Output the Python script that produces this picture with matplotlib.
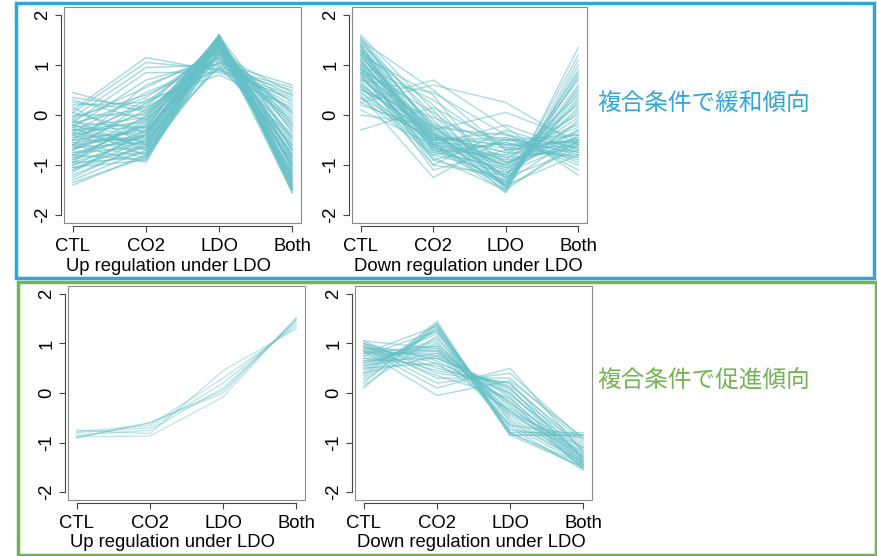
import matplotlib
matplotlib.use('Agg')
import matplotlib.pyplot as plt
from matplotlib.patches import Rectangle

# conditions on the x axis
conditions = ['CTL', 'CO2', 'LDO', 'Both']
x_pos = [1, 2, 3, 4]
y_ticks = [-2, -1, 0, 1, 2]
y_tick_labels = ['-2', '-1', '0', '1', '2']

# each row: CTL, CO2, LDO, Both (scaled expression)
up_relieved = [
    [0.45, 0.05, 1.05, 0.60], [0.35, 0.15, 0.95, 0.55], [0.30, -0.10, 1.20, 0.45],
    [0.20, 0.25, 0.90, 0.50], [0.10, 1.15, 0.88, 0.40], [0.05, 1.05, 0.92, 0.30],
    [-0.05, 0.95, 1.00, 0.20], [-0.15, 0.85, 0.85, 0.35], [-0.25, 0.70, 1.10, 0.10],
    [-0.10, 0.55, 1.25, 0.00], [-0.35, 0.45, 1.05, -0.10], [-0.20, 0.35, 1.30, -0.20],
    [-0.50, 0.30, 0.80, 0.15], [-0.40, 0.20, 1.40, -0.30], [-0.60, 0.10, 1.15, -0.40],
    [0.00, 0.00, 1.50, -0.50], [-0.70, -0.05, 1.35, -0.60], [-0.30, -0.15, 1.55, -0.70],
    [-0.80, -0.20, 1.45, -0.80], [-0.15, -0.25, 1.60, -0.90], [-0.90, -0.30, 1.25, -1.00],
    [-0.45, -0.35, 1.58, -1.10], [-1.00, -0.40, 1.50, -1.20], [-0.55, -0.45, 1.42, -1.30],
    [-1.10, -0.50, 1.60, -1.40], [-0.65, -0.55, 1.55, -1.50], [-1.20, -0.60, 1.38, -1.55],
    [-0.75, -0.65, 1.48, -1.35], [-1.30, -0.70, 1.30, -1.25], [-0.85, -0.75, 1.20, -1.15],
    [-1.40, -0.80, 1.52, -1.05], [-0.95, -0.85, 1.45, -0.95], [-1.05, -0.90, 1.35, -0.85],
    [-0.60, -0.95, 1.60, -1.45], [-0.25, -0.80, 1.10, -0.75], [0.15, -0.60, 1.40, -0.65],
    [-0.35, -0.70, 1.50, -0.55], [-0.50, -0.50, 0.95, -0.45], [-0.80, -0.40, 1.58, -0.35],
    [-1.15, -0.30, 1.25, -0.25], [-0.70, -0.20, 1.45, -0.15], [-0.40, -0.10, 1.15, -0.05],
    [-0.95, 0.00, 1.30, 0.05], [-1.25, -0.55, 1.55, -1.50], [-0.20, -0.45, 1.60, -1.20],
    [0.05, -0.35, 1.35, -1.00], [-0.85, -0.15, 1.50, -1.35], [-0.55, -0.85, 1.40, -1.45],
    [-1.00, -0.65, 1.00, -0.60], [-0.30, -0.55, 1.25, -0.80], [-0.65, -0.25, 1.60, -1.10],
    [-0.10, -0.70, 1.45, -1.30], [-0.75, -0.45, 1.55, -0.90], [-1.35, -0.85, 1.48, -1.40],
    [-0.45, 0.05, 1.35, -0.70], [-0.90, -0.10, 1.58, -1.25], [0.25, 0.10, 1.20, 0.25],
    [-0.05, 0.40, 1.05, 0.40], [-0.60, 0.60, 1.15, 0.05], [-0.35, -0.60, 1.52, -1.55],
    [-1.05, -0.75, 1.60, -1.50], [-0.50, -0.30, 1.42, -1.00], [-0.25, -0.05, 1.55, -0.85],
    [-0.80, -0.90, 1.30, -1.15], [-0.15, 0.15, 1.48, -0.45], [-0.70, 0.25, 1.38, -0.20],
    [-0.60, -0.40, 1.50, -1.45], [-0.20, -0.65, 1.58, -1.35], [-0.95, -0.50, 1.40, -1.05],
    [-0.40, -0.80, 1.55, -1.25], [-1.10, -0.35, 1.45, -0.70], [-0.30, -0.25, 1.35, -0.95],
]

down_relieved = [
    [1.60, 0.10, -1.50, 1.35], [1.55, -0.10, -1.45, 1.20], [1.50, -0.30, -1.55, 1.00],
    [1.45, 0.00, -1.35, 0.85], [1.40, -0.40, -1.20, 0.70], [1.35, -0.20, -1.40, 0.55],
    [1.30, -0.50, -1.00, 0.40], [1.25, 0.20, -1.30, 0.30], [1.20, -0.60, -0.90, 0.20],
    [1.15, -0.15, -1.10, 0.10], [1.10, -0.70, -0.80, 0.00], [1.05, -0.35, -1.25, -0.10],
    [1.00, 0.30, -0.70, -0.20], [0.95, -0.80, -1.15, -0.30], [0.90, -0.45, -0.60, -0.40],
    [0.85, -0.25, -1.05, -0.50], [0.80, -0.90, -0.50, -0.55], [0.75, -0.55, -0.95, -0.60],
    [0.70, 0.45, -0.40, -0.65], [0.65, -0.65, -0.85, -0.70], [0.60, -1.00, -0.30, -0.75],
    [0.55, -0.40, -0.75, -0.80], [0.50, -0.05, -0.65, -0.85], [0.45, -0.75, -0.55, -0.90],
    [0.40, -1.25, -0.45, -1.00], [0.35, -0.50, -0.35, -1.10], [0.30, 0.70, -0.25, -1.20],
    [0.25, 0.60, 0.25, -0.60], [0.20, -0.30, 0.05, -0.50], [0.10, -0.60, -0.20, -0.70],
    [0.00, -0.20, -0.50, -0.40], [-0.30, 0.15, -0.60, -0.55], [1.50, 0.50, -0.70, -0.50],
    [1.20, 0.40, -1.45, 0.90], [1.35, -0.65, -1.35, 0.60], [0.90, -0.85, -1.50, 0.80],
    [1.10, -0.55, -1.40, 0.45], [0.75, -0.40, -1.20, 0.25], [1.00, -0.30, -0.95, -0.55],
    [0.65, -0.60, -0.80, -0.45], [1.40, -0.75, -1.05, 0.05], [0.85, -1.10, -0.70, -0.60],
    [1.25, -0.45, -0.60, -0.65], [0.55, -0.70, -1.10, -0.15], [1.05, -0.90, -1.30, 0.35],
    [0.95, -0.50, -0.45, -0.80], [0.70, -0.35, -0.85, -0.35], [1.30, -0.60, -1.55, 1.10],
    [0.45, -0.55, -0.65, -0.50], [1.15, -0.40, -0.75, -0.25], [0.80, -0.65, -1.00, -0.05],
    [1.45, -0.25, -1.25, 0.50], [0.60, -0.45, -0.90, -0.65], [1.55, -0.35, -1.40, 0.75],
    [0.35, -0.80, -0.55, -0.85], [1.00, -1.00, -1.20, 0.15], [0.50, -0.25, -0.40, -0.95],
    [1.20, -0.50, -0.50, -0.75], [0.90, 0.05, -0.95, -0.45], [0.25, -0.45, -1.00, -0.30],
    [1.30, -0.40, -1.45, -0.60], [1.10, -0.60, -1.35, -0.40], [0.85, -0.50, -1.25, -0.70],
    [1.40, -0.55, -1.50, -0.50], [0.95, -0.20, -1.15, -0.55], [1.25, -0.70, -1.40, -0.80],
]

up_promoted = [
    [-0.90, -0.60, 0.00, 1.50], [-0.88, -0.87, -0.08, 1.52], [-0.85, -0.75, 0.10, 1.45],
    [-0.80, -0.70, 0.20, 1.40], [-0.75, -0.82, 0.45, 1.30], [-0.78, -0.65, 0.30, 1.35],
    [-0.90, -0.60, 0.05, 1.48],
]

down_promoted = [
    [0.10, 1.40, -0.85, -1.50], [0.20, 1.45, -0.80, -1.45], [0.30, 1.35, -0.70, -1.55],
    [0.40, 1.30, -0.60, -1.40], [0.50, 1.20, -0.50, -1.35], [0.55, 1.10, -0.40, -1.30],
    [0.60, 1.00, -0.30, -1.25], [0.65, 0.95, -0.25, -1.50], [0.70, 0.90, -0.20, -1.20],
    [0.75, 0.85, -0.10, -1.45], [0.80, 0.80, -0.05, -1.15], [0.85, 0.75, 0.00, -1.40],
    [0.90, 0.70, 0.05, -1.10], [0.95, 0.60, 0.10, -1.35], [1.00, 0.50, 0.15, -1.05],
    [1.05, 0.40, 0.20, -1.30], [1.00, 0.30, 0.30, -1.00], [0.95, 0.20, 0.40, -0.95],
    [0.90, 0.10, 0.50, -1.20], [0.85, -0.05, 0.25, -0.90], [0.25, 1.30, -0.85, -0.85],
    [0.35, 1.40, -0.80, -0.80], [0.45, 1.25, -0.85, -0.85], [0.15, 1.15, -0.75, -0.90],
    [0.60, 1.05, -0.65, -0.85], [0.80, 0.95, -0.45, -1.25], [0.75, 1.25, -0.55, -1.40],
    [0.90, 0.85, -0.35, -1.50], [0.70, 0.55, 0.00, -1.30], [1.00, 0.65, -0.15, -1.55],
    [0.55, 0.80, -0.20, -1.45], [0.65, 0.70, 0.10, -1.35], [0.85, 0.45, 0.20, -1.15],
    [0.95, 0.35, -0.10, -1.40], [0.50, 0.60, -0.35, -1.20], [0.80, 1.35, -0.80, -1.50],
    [0.40, 0.75, -0.40, -1.10], [1.05, 0.90, -0.65, -1.45],
]

W, H = 877, 556
line_color = '#66c0c7'
blue = '#2fa5da'
green = '#72b453'

plt.rcParams['font.family'] = ['Liberation Sans', 'DejaVu Sans']
plt.rcParams['axes.unicode_minus'] = False

fig = plt.figure(figsize=(W / 100, H / 100), dpi=100)


def px_axes(left, top, right, bottom):
    return fig.add_axes([left / W, 1 - bottom / H, (right - left) / W, (bottom - top) / H])


def draw_panel(ax, rows, label, alpha):
    # spine positions first: moving a spine resets its ticks
    for side in ['top', 'right']:
        ax.spines[side].set_visible(False)
    ax.spines['left'].set_position(('outward', 2))
    ax.spines['bottom'].set_position(('outward', 2))
    for row in rows:
        ax.plot(x_pos, row, color=line_color, alpha=alpha, lw=1.0)
    ax.set_xlim(0.88, 4.12)
    ax.set_ylim(-2.16, 2.16)
    ax.spines['left'].set_bounds(-2, 2)
    ax.spines['bottom'].set_bounds(1, 4)
    for side in ['left', 'bottom']:
        ax.spines[side].set_color('#444444')
        ax.spines[side].set_linewidth(0.8)
    ax.set_xticks(x_pos)
    ax.set_xticklabels(conditions)
    ax.set_yticks(y_ticks)
    ax.set_yticklabels(y_tick_labels, rotation=90, va='center')
    ax.tick_params(axis='both', length=4, width=0.8, color='#444444', labelsize=13.3)
    ax.tick_params(axis='x', pad=5)
    ax.tick_params(axis='y', pad=3)
    ax.add_patch(Rectangle((0, 0), 1, 1, transform=ax.transAxes, fill=False,
                           ec='#8a8a8a', lw=0.8, clip_on=False))
    ax.text(0.01, -0.2, label, transform=ax.transAxes, fontsize=13.3,
            ha='left', va='center')


ax1 = px_axes(64, 7, 301, 223)
draw_panel(ax1, up_relieved, 'Up regulation under LDO', 0.6)
ax2 = px_axes(352, 7, 587, 223)
draw_panel(ax2, down_relieved, 'Down regulation under LDO', 0.55)
ax3 = px_axes(68, 286, 305, 500)
draw_panel(ax3, up_promoted, 'Up regulation under LDO', 0.4)
ax4 = px_axes(355, 286, 592, 500)
draw_panel(ax4, down_promoted, 'Down regulation under LDO', 0.55)

# group frames
fig.add_artist(Rectangle((16 / W, 1 - 278 / H), (874 - 16) / W, (278 - 3) / H,
                         transform=fig.transFigure, fill=False, ec=blue, lw=2.5))
fig.add_artist(Rectangle((18 / W, 1 - 555 / H), (876 - 18) / W, (555 - 282) / H,
                         transform=fig.transFigure, fill=False, ec=green, lw=2.5))

fig.text(597 / W, 1 - 104 / H, '複合条件で緩和傾向', color=blue, fontsize=17,
         family=['Noto Sans CJK JP', 'DejaVu Sans'], ha='left', va='center')
fig.text(597 / W, 1 - 381 / H, '複合条件で促進傾向', color=green, fontsize=17,
         family=['Noto Sans CJK JP', 'DejaVu Sans'], ha='left', va='center')

fig.savefig('out.png', dpi=100)
